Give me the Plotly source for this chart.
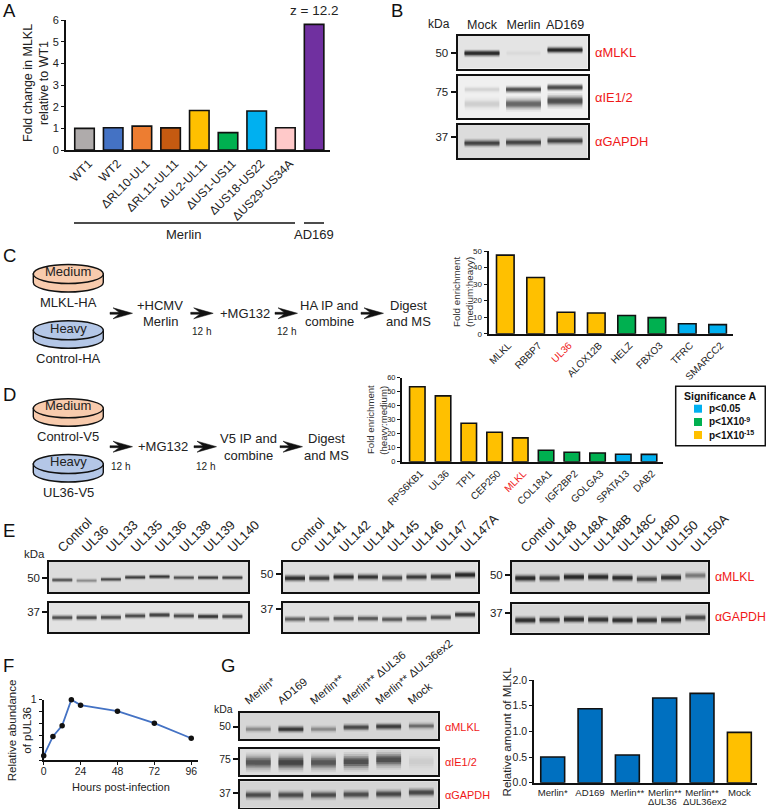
import plotly.graph_objects as go

W, H = 766, 809
FONT = "Liberation Sans"
INK = "#222222"
RED = "#f01818"

# ---------- data ----------
a_labels = ["WT1", "WT2", "ΔRL10-UL1", "ΔRL11-UL11", "ΔUL2-UL11", "ΔUS1-US11", "ΔUS18-US22", "ΔUS29-US34A"]
a_values = [1.0, 1.03, 1.1, 1.02, 1.82, 0.8, 1.8, 1.03, 5.8]
a_colors = ["#AFABAB", "#4472C4", "#ED7D31", "#C55A11", "#FFC000", "#00B050", "#00B0F0", "#FFC9C9", "#7030A0"]

c_labels = ["MLKL", "RBBP7", '<span style="color:#f01818">UL36</span>', "ALOX12B", "HELZ", "FBXO3", "TFRC", "SMARCC2"]
c_values = [47.5, 34, 13, 12.5, 11, 9.7, 6, 5.5]
c_colors = ["#FFC000"] * 4 + ["#00B050"] * 2 + ["#00B0F0"] * 2

d_labels = ["RPS6KB1", "UL36", "TPI1", "CEP250", '<span style="color:#f01818">MLKL</span>', "COL18A1", "IGF2BP2", "GOLGA3", "SPATA13", "DAB2"]
d_values = [53.5, 47, 27.5, 21, 17, 8.2, 6.7, 6.2, 5.3, 5.2]
d_colors = ["#FFC000"] * 5 + ["#00B050"] * 3 + ["#00B0F0"] * 2

f_hours = [0, 6, 12, 18, 24, 48, 72, 96]
f_abund = [0.07, 0.39, 0.57, 1.0, 0.91, 0.81, 0.61, 0.36]

g_labels = ["Merlin*", "AD169", "Merlin**", "Merlin**", "Merlin**", "Mock"]
g_values = [0.5, 1.44, 0.54, 1.65, 1.74, 0.98]
g_colors = ["#0070C0"] * 5 + ["#FFC000"]

b_lanes = ["Mock", "Merlin", "AD169"]
b_mlkl = [1.0, 0.03, 1.0]
b_ie_up = [0.08, 0.7, 0.75]
b_ie_lo = [0.1, 0.55, 0.7]
b_gapdh = [0.75, 0.75, 0.75]

e1_lanes = ["Control", "UL36", "UL133", "UL135", "UL136", "UL138", "UL139", "UL140"]
e1_mlkl = [0.6, 0.3, 0.7, 0.8, 0.85, 0.65, 0.8, 0.75]
e1_gapdh = [0.65, 0.7, 0.7, 0.7, 0.8, 0.7, 0.85, 0.7]
e2_lanes = ["Control", "UL141", "UL142", "UL144", "UL145", "UL146", "UL147", "UL147A"]
e2_mlkl = [0.95, 0.8, 0.9, 0.85, 0.7, 0.8, 0.85, 1.0]
e2_gapdh = [0.55, 0.5, 0.6, 0.6, 0.6, 0.6, 0.65, 0.85]
e3_lanes = ["Control", "UL148", "UL148A", "UL148B", "UL148C", "UL148D", "UL150", "UL150A"]
e3_mlkl = [1.0, 0.8, 1.0, 0.95, 0.95, 0.7, 0.9, 0.4]
e3_gapdh = [0.95, 0.85, 0.95, 0.9, 0.95, 0.9, 0.85, 0.7]

g_lanes = ["Merlin*", "AD169", "Merlin**", "Merlin** ΔUL36", "Merlin** ΔUL36ex2", "Mock"]
g_mlkl = [0.3, 0.85, 0.3, 0.7, 0.8, 0.45]
g_ie = [0.6, 0.75, 0.6, 0.65, 0.65, 0.05]
g_gapdh = [0.65, 0.65, 0.65, 0.65, 0.7, 0.7]

# ---------- helpers ----------
fig = go.Figure()
layout = {}
shapes = []
annots = []
n_ax = [0]


def px(x):
    return x / W


def py(y):
    return 1 - y / H


def axes(x0, x1, y0, y1, xa, ya):
    n_ax[0] += 1
    s = "" if n_ax[0] == 1 else str(n_ax[0])
    layout["xaxis" + s] = dict(domain=[px(x0), px(x1)], anchor="y" + s, fixedrange=True, showgrid=False, zeroline=False, automargin=False, **xa)
    layout["yaxis" + s] = dict(domain=[py(y1), py(y0)], anchor="x" + s, fixedrange=True, showgrid=False, zeroline=False, automargin=False, **ya)
    return "x" + s, "y" + s


def text(x, y, t, size=12, color=INK, anchor="center", angle=0, bold=False):
    if bold:
        t = "<b>" + t + "</b>"
    annots.append(dict(xref="paper", yref="paper", x=px(x), y=py(y), text=t, showarrow=False,
                       xanchor=anchor, yanchor="middle", textangle=angle,
                       font=dict(family=FONT, size=size, color=color), align="center"))


def line(x0, y0, x1, y1, w=1.5):
    shapes.append(dict(type="line", xref="paper", yref="paper", x0=px(x0), x1=px(x1), y0=py(y0), y1=py(y1),
                       line=dict(color="#111", width=w)))


def bars(x0, x1, y0, y1, centre0, step, ymax, labels, values, colors, yticks, xfont, yfont, angle, bw, lw=1.6, ticktext=None, shift=0.0):
    xa = dict(range=[(x0 - centre0) / step, (x1 - centre0) / step], tickmode="array",
              tickvals=[i + shift for i in range(len(labels))],
              ticktext=labels, tickangle=angle, ticks="", showline=True, linecolor="#111", linewidth=2,
              tickfont=dict(family=FONT, size=xfont, color=INK))
    ya = dict(range=[0, ymax], tickmode="array", tickvals=yticks, ticktext=ticktext or [str(v) for v in yticks],
              ticks="outside", ticklen=3, tickwidth=1.2, tickcolor="#111", showline=True, linecolor="#111", linewidth=2,
              tickfont=dict(family=FONT, size=yfont, color=INK))
    xr, yr = axes(x0, x1, y0, y1, xa, ya)
    fig.add_trace(go.Bar(x=list(range(len(values))), y=values, width=bw, xaxis=xr, yaxis=yr,
                         marker=dict(color=colors, line=dict(color="#111", width=lw)), showlegend=False, hoverinfo="skip"))


LAYERS = ((2.2, 0.09), (1.75, 0.16), (1.3, 0.28), (0.9, 0.42), (0.5, 0.45))


def blot(x0, x1, y0, y1, c0, step, bg, rows, tick, tick_y, halfwidth, lanes=None, lane_font=13, lane_angle=-45, shift=0.0, tickfont=11.5):
    n = len(rows[0][0])
    xa = dict(range=[(x0 - c0) / step, (x1 - c0) / step], showline=True, mirror=True, linecolor="#111", linewidth=2,
              ticks="")
    if lanes:
        xa.update(side="top", tickmode="array", tickvals=[i + shift for i in range(n)], ticktext=lanes, tickangle=lane_angle,
                  tickfont=dict(family=FONT, size=lane_font, color=INK))
    else:
        xa.update(showticklabels=False)
    ya = dict(range=[1, 0], tickmode="array", tickvals=[tick_y], ticktext=[tick], ticks="outside", ticklen=5, tickwidth=1.8,
              tickcolor="#111", showline=True, mirror=True, linecolor="#111", linewidth=2,
              tickfont=dict(family=FONT, size=tickfont, color=INK))
    xr, yr = axes(x0, x1, y0, y1, xa, ya)
    shapes.append(dict(type="rect", xref=xr + " domain", yref=yr + " domain", x0=0, x1=1, y0=0, y1=1, layer="below",
                       fillcolor=bg, line=dict(width=0)))
    for inten, ypos, thick in rows:
        for i, v in enumerate(inten):
            yy = ypos[i]
            for wmul, alpha in LAYERS:
                fig.add_trace(go.Scatter(x=[i - halfwidth, i + halfwidth], y=[yy, yy], xaxis=xr, yaxis=yr, mode="lines",
                                         line=dict(color=f"rgba(5,5,5,{alpha * v:.3f})", width=thick * wmul),
                                         showlegend=False, hoverinfo="skip"))


def arrow(x0, x1, y):
    p = [(x1, y), (x0 + 3, y - 5.5), (x0 + 9, y - 1), (x0, y - 1), (x0, y + 1), (x0 + 9, y + 1), (x0 + 3, y + 5.5)]
    d = "M " + " L ".join(f"{px(a):.5f},{py(b):.5f}" for a, b in p) + " Z"
    shapes.append(dict(type="path", xref="paper", yref="paper", path=d, fillcolor="#111", line=dict(color="#111", width=0.5)))


def dish(cx, cy, fill, rx=35, ry=9.5, h=8.5):
    k = 0.5523
    P = lambda a, b: f"{px(a):.5f},{py(b):.5f}"
    d = ("M " + P(cx - rx, cy) + " L " + P(cx - rx, cy + h) +
         " C " + P(cx - rx, cy + h + k * ry) + " " + P(cx - k * rx, cy + h + ry) + " " + P(cx, cy + h + ry) +
         " C " + P(cx + k * rx, cy + h + ry) + " " + P(cx + rx, cy + h + k * ry) + " " + P(cx + rx, cy + h) +
         " L " + P(cx + rx, cy) + " Z")
    shapes.append(dict(type="path", xref="paper", yref="paper", path=d, fillcolor=fill, line=dict(color="#111", width=1.4)))
    shapes.append(dict(type="circle", xref="paper", yref="paper", x0=px(cx - rx), x1=px(cx + rx), y0=py(cy + ry), y1=py(cy - ry),
                       fillcolor=fill, line=dict(color="#111", width=1.4)))


# ---------- panel letters ----------
for lx, ly, t in [(1, 11, "A"), (389, 11, "B"), (1, 255, "C"), (1, 394, "D"), (1, 530, "E"), (1, 665, "F"), (219, 665, "G")]:
    text(lx, ly, t, size=18.5, color="#111", anchor="left")

# ---------- A ----------
bars(66, 330, 20, 150, 84.5, 28.7, 6, a_labels, a_values, a_colors, [0, 1, 2, 3, 4, 5, 6], 12, 11, -45, 0.68, shift=0.15)
text(28, 83, "Fold change in MLKL", 12.5, angle=-90)
text(44, 83, "relative to WT1", 12.5, angle=-90)
text(314, 10, "z = 12.2", 13.5)
line(74, 223, 295, 223)
line(304, 223, 324, 223)
text(183, 234, "Merlin", 13)
text(314, 234, "AD169", 13)

# ---------- B ----------
text(439, 24, "kDa", 12)
blot(457.5, 587.5, 35.5, 68.5, 482, 41.5, "#e4e4e4", [(b_mlkl, [0.54, 0.54, 0.44], 3.8)], "50", 0.54, 0.42, b_lanes, 12.5, 0)
blot(457.5, 587.5, 75.5, 118, 482, 41.5, "#f0f0f0",
     [(b_ie_up, [0.33, 0.33, 0.28], 4), (b_ie_lo, [0.67, 0.67, 0.6], 7)], "75", 0.38, 0.42)
blot(457.5, 587.5, 125, 158, 482, 41.5, "#dcdcdc", [(b_gapdh, [0.55, 0.53, 0.48], 4.5)], "37", 0.36, 0.42)
text(593, 53, "αMLKL", 12.9, RED, "left")
text(593, 97, "αIE1/2", 12.9, RED, "left")
text(593, 141, "αGAPDH", 12.9, RED, "left")

# ---------- C schematic ----------
dish(68.3, 274, "#F8CBAD")
dish(68.3, 330.3, "#B4C7E7")
text(68, 272, "Medium", 13)
text(68, 328, "Heavy", 13)
text(68, 302.7, "MLKL-HA", 13)
text(68, 359, "Control-HA", 13)
for a0 in (110, 190.7, 275, 361):
    arrow(a0, a0 + 22.5, 313.3)
text(160, 305, "+HCMV", 13)
text(160, 321, "Merlin", 13)
text(245, 313.3, "+MG132", 13)
text(329, 305, "HA IP and", 13)
text(329, 321, "combine", 13)
text(408, 305, "Digest", 13)
text(408, 321, "and MS", 13)
text(201.7, 332, "12 h", 10)
text(286, 332, "12 h", 10)

# ---------- C chart ----------
bars(488.5, 733, 251, 333.7, 505.3, 30.33, 50, c_labels, c_values, c_colors, [0, 10, 20, 30, 40, 50], 10, 8, -45, 0.58, shift=0.1)
text(456, 292, "Fold enrichment", 9.8, "#333", angle=-90)
text(469, 292, "(medium:heavy)", 9.8, "#333", angle=-90)

# ---------- D schematic ----------
dish(68.3, 408.3, "#F8CBAD")
dish(68.3, 464, "#B4C7E7")
text(68, 405.7, "Medium", 13)
text(68, 461.7, "Heavy", 13)
text(68, 436.7, "Control-V5", 13)
text(68, 492.7, "UL36-V5", 13)
for a0 in (110, 194, 280):
    arrow(a0, a0 + 22.5, 446.7)
text(163.3, 446.7, "+MG132", 13)
text(248.3, 438.7, "V5 IP and", 13)
text(248.3, 455.3, "combine", 13)
text(326.7, 438.7, "Digest", 13)
text(326.7, 455.3, "and MS", 13)
text(120.7, 466.3, "12 h", 10)
text(205, 466.3, "12 h", 10)

# ---------- D chart ----------
bars(402, 663, 377.7, 461.7, 417.3, 25.75, 60, d_labels, d_values, d_colors, [0, 10, 20, 30, 40, 50, 60], 10, 7.5, -45, 0.6, shift=0.12)
text(370, 420, "Fold enrichment", 9.6, "#333", angle=-90)
text(382.7, 420, "(heavy:medium)", 9.6, "#333", angle=-90)

# ---------- significance legend ----------
shapes.append(dict(type="rect", xref="paper", yref="paper", x0=px(675.7), x1=px(765.3), y0=py(445.7), y1=py(386.3),
                   line=dict(color="#111", width=1.5), fillcolor="white"))
text(720, 396, "Significance A", 10.5, "#111", bold=True)
for yy, col, t, sup in [(408.7, "#00B0F0", "p&lt;0.05", ""), (422, "#00B050", "p&lt;1X10", "-9"), (435, "#FFC000", "p&lt;1X10", "-15")]:
    shapes.append(dict(type="rect", xref="paper", yref="paper", x0=px(694), x1=px(702), y0=py(yy + 4), y1=py(yy - 4),
                       fillcolor=col, line=dict(width=0)))
    text(706.5, yy, t, 10, "#111", "left", bold=True)
    if sup:
        text(741.5, yy - 3, sup, 7, "#111", "left", bold=True)

# ---------- E ----------
text(34, 553.7, "kDa", 11.5)
st = 24.3
blot(49.3, 248.3, 562, 592, 62.3, st, "#dcdcdc",
     [(e1_mlkl, [0.6, 0.62, 0.58, 0.51, 0.49, 0.52, 0.52, 0.52], 2.6)], "50", 0.545, 0.41, e1_lanes, shift=-0.16)
blot(49.3, 248.3, 602.7, 632, 62.3, st, "#e2e2e2",
     [(e1_gapdh, [0.51, 0.51, 0.5, 0.45, 0.42, 0.45, 0.47, 0.47], 3.2)], "37", 0.31, 0.41)
blot(282.7, 477.7, 562, 592, 295, st, "#dedede",
     [(e2_mlkl, [0.54, 0.54, 0.5, 0.5, 0.53, 0.5, 0.49, 0.43], 4)], "50", 0.41, 0.41, e2_lanes, shift=-0.16)
blot(282.7, 477.7, 602.7, 632, 295, st, "#e0e0e0",
     [(e2_gapdh, [0.56, 0.56, 0.54, 0.54, 0.57, 0.54, 0.5, 0.41], 3.6)], "37", 0.23, 0.41)
blot(512, 707.7, 562, 592, 525.3, st, "#d8d8d8",
     [(e3_mlkl, [0.54, 0.54, 0.5, 0.5, 0.53, 0.57, 0.52, 0.45], 4.2)], "50", 0.43, 0.41, e3_lanes, shift=-0.16)
blot(512, 707.7, 604.3, 632.7, 525.3, st, "#d8d8d8",
     [(e3_gapdh, [0.56, 0.55, 0.53, 0.54, 0.56, 0.56, 0.55, 0.47], 4.2)], "37", 0.32, 0.41)
text(712.7, 577.3, "αMLKL", 12.3, RED, "left")
text(712.7, 617.3, "αGAPDH", 12.3, RED, "left")

# ---------- F ----------
xa_f = dict(range=[0, 100.4], tickmode="array", tickvals=[0, 24, 48, 72, 96], ticks="outside", ticklen=3, tickwidth=1.2,
            ticklabelstandoff=-3,
            tickcolor="#111", showline=True, linecolor="#111", linewidth=2, tickfont=dict(family=FONT, size=10.5, color=INK))
ya_f = dict(range=[0, 1], tickmode="array", tickvals=[1], ticktext=["1"],
            minor=dict(tickmode="array", tickvals=[0, 0.2, 0.4, 0.6, 0.8], ticks="outside", ticklen=3, tickwidth=1.2, tickcolor="#111"),
            ticks="outside", ticklen=3, tickwidth=1.2, tickcolor="#111", showline=True, linecolor="#111", linewidth=2,
            tickfont=dict(family=FONT, size=10.5, color=INK))
xr, yr = axes(43.7, 198, 699.7, 760, xa_f, ya_f)
fig.add_trace(go.Scatter(x=f_hours, y=f_abund, xaxis=xr, yaxis=yr, mode="lines+markers", cliponaxis=False,
                         line=dict(color="#4472C4", width=1.8), marker=dict(color="#111", size=5.5),
                         showlegend=False, hoverinfo="skip"))
text(12.3, 730, "Relative abundance", 11.5, angle=-90)
text(26.7, 730, "of pUL36", 11.5, angle=-90)
text(120.7, 786.7, "Hours post-infection", 11)

# ---------- G blots ----------
text(223.5, 709, "kDa", 10.5)
gs = 32.6
blot(240, 437.7, 712.7, 739.3, 258.3, gs, "#d6d6d6",
     [(g_mlkl, [0.62, 0.62, 0.62, 0.55, 0.52, 0.5], 4)], "50", 0.525, 0.38, g_lanes, 11.3, -39, shift=-0.4, tickfont=10.5)
blot(240, 437.7, 748.7, 775, 258.3, gs, "#dedede",
     [(g_ie, [0.52, 0.52, 0.52, 0.5, 0.42, 0.5], 9)], "75", 0.39, 0.38, tickfont=10.5)
blot(240, 437.7, 781.3, 807.7, 258.3, gs, "#d4d4d4",
     [(g_gapdh, [0.52, 0.52, 0.52, 0.5, 0.48, 0.42], 5)], "37", 0.45, 0.38, tickfont=10.5)
text(443, 726.7, "αMLKL", 10.9, RED, "left")
text(443, 762, "αIE1/2", 10.9, RED, "left")
text(443, 795, "αGAPDH", 10.9, RED, "left")

# ---------- G chart ----------
bars(534.3, 756.7, 680, 782.7, 552.7, 37.33, 2.0, g_labels, g_values, g_colors, [0, 0.5, 1, 1.5, 2], 9.6, 10.5, 0, 0.64,
     ticktext=["0.0", "0.5", "1.0", "1.5", "2.0"])
text(662.7, 801, "ΔUL36", 9.4)
text(704.7, 801, "ΔUL36ex2", 9.4)
text(506.7, 731.7, "Relative amount of MLKL", 11.5, angle=-90)

layout.update(width=W, height=H, margin=dict(l=0, r=0, t=0, b=0), paper_bgcolor="white", plot_bgcolor="white",
              shapes=shapes, annotations=annots, showlegend=False, barmode="overlay", font=dict(family=FONT, color=INK))
fig.update_layout(**layout)
fig.write_html("out.html", post_script="document.body.style.margin='0';", config={"displayModeBar": False})
